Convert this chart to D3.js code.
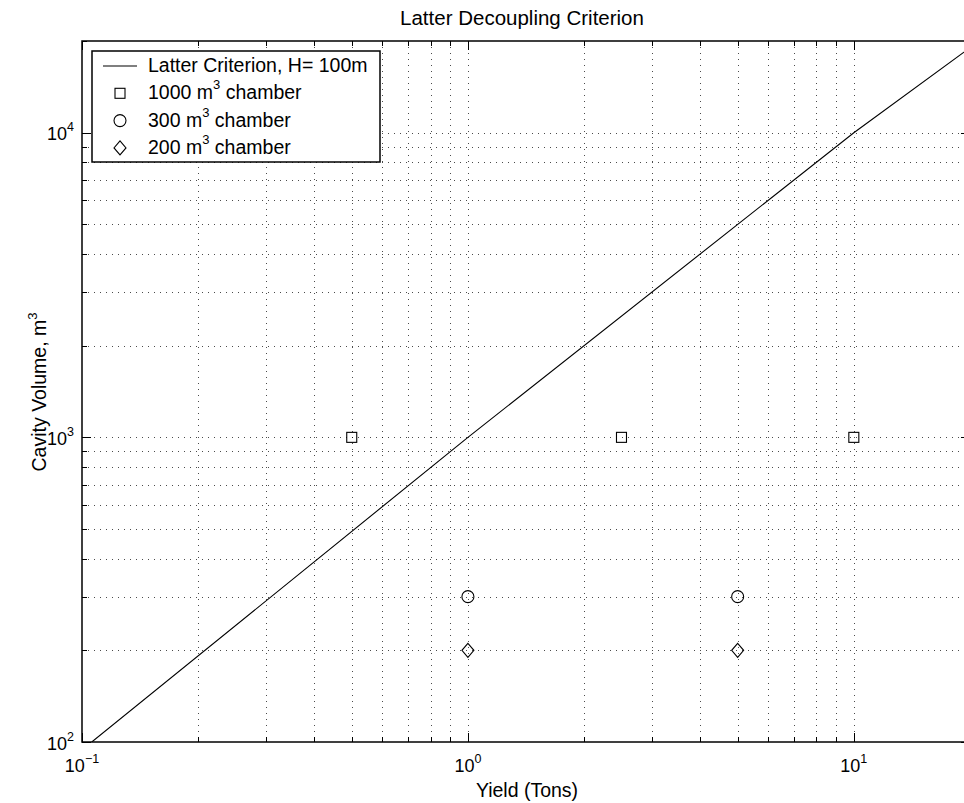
<!DOCTYPE html>
<html>
<head>
<meta charset="utf-8">
<script src="https://cdn.jsdelivr.net/npm/d3@7"></script>
<style>
  html, body { margin: 0; padding: 0; background: #fff; }
  svg { display: block; font-family: "Liberation Sans", Arial, Helvetica, sans-serif; }
</style>
</head>
<body>
<svg id="chart" width="964" height="803"></svg>
<script>
// Latter criterion curve (yield in tons, cavity volume in m^3)
const criterionYield  = [0.106, 1, 10, 20];
const criterionVolume = [100, 1000, 10000, 19000];

// Chamber test points
const chamber1000Yield = [0.5, 2.5, 10];
const chamber1000Vol   = [1000, 1000, 1000];
const chamber300Yield  = [1, 5];
const chamber300Vol    = [300, 300];
const chamber200Yield  = [1, 5];
const chamber200Vol    = [200, 200];

const xMajorTicks = [0.1, 1, 10];
const xTickExp    = ["\u22121", "0", "1"];
const yMajorTicks = [100, 1000, 10000];
const yTickExp    = ["2", "3", "4"];

const legendLabels = [
  {type: "line",    pre: "Latter Criterion, H= 100m"},
  {type: "square",  pre: "1000 m", sup: "3", post: " chamber"},
  {type: "circle",  pre: "300 m",  sup: "3", post: " chamber"},
  {type: "diamond", pre: "200 m",  sup: "3", post: " chamber"}
];

const svg = d3.select("#chart");
const margin = {left: 82, top: 41, right: 970, bottom: 742};

const x = d3.scaleLog().domain([0.1, 20]).range([margin.left, margin.right]);
const y = d3.scaleLog().domain([100, 20000]).range([margin.bottom, margin.top]);

// every 1..9 multiple inside each decade of the range
function logTicks(lo, hi) {
  const out = [];
  for (let e = Math.floor(Math.log10(lo)); e <= Math.ceil(Math.log10(hi)); e++) {
    for (let m = 1; m <= 9; m++) {
      const v = m * Math.pow(10, e);
      if (v >= lo * 0.9999 && v <= hi * 1.0001) out.push(v);
    }
  }
  return out;
}
const xAll = logTicks(0.1, 20);
const yAll = logTicks(100, 20000);

svg.append("defs").append("clipPath").attr("id", "plotclip")
  .append("rect")
  .attr("x", margin.left).attr("y", margin.top)
  .attr("width", margin.right - margin.left)
  .attr("height", margin.bottom - margin.top);

const plot = svg.append("g").attr("clip-path", "url(#plotclip)");

// dotted grid
const gridStyle = g => g.attr("stroke", "#000").attr("stroke-width", 1)
  .attr("stroke-dasharray", "1,5").attr("shape-rendering", "crispEdges").attr("opacity", 0.7);

plot.append("g").call(gridStyle).selectAll("line")
  .data(xAll.filter(v => v > 0.1 && v < 20)).join("line")
  .attr("x1", d => Math.round(x(d)) + 0.5).attr("x2", d => Math.round(x(d)) + 0.5)
  .attr("y1", margin.top).attr("y2", margin.bottom);

plot.append("g").call(gridStyle).selectAll("line")
  .data(yAll.filter(v => v > 100 && v < 20000)).join("line")
  .attr("y1", d => Math.round(y(d)) + 0.5).attr("y2", d => Math.round(y(d)) + 0.5)
  .attr("x1", margin.left).attr("x2", margin.right);

// criterion line
plot.append("path")
  .datum(criterionYield.map((v, i) => [v, criterionVolume[i]]))
  .attr("fill", "none").attr("stroke", "#000").attr("stroke-width", 1.1)
  .attr("d", d3.line().x(d => x(d[0])).y(d => y(d[1])));

// markers
function drawMarker(g, type, cx, cy) {
  if (type === "square") {
    g.append("rect").attr("x", cx - 5).attr("y", cy - 5).attr("width", 10).attr("height", 10)
      .attr("fill", "none").attr("stroke", "#000").attr("stroke-width", 1.1);
  } else if (type === "circle") {
    g.append("circle").attr("cx", cx).attr("cy", cy).attr("r", 6)
      .attr("fill", "none").attr("stroke", "#000").attr("stroke-width", 1.1);
  } else if (type === "diamond") {
    g.append("path").attr("d", `M${cx},${cy - 7}L${cx + 6},${cy}L${cx},${cy + 7}L${cx - 6},${cy}Z`)
      .attr("fill", "none").attr("stroke", "#000").attr("stroke-width", 1.1);
  } else if (type === "line") {
    g.append("line").attr("x1", cx - 17).attr("x2", cx + 17).attr("y1", cy).attr("y2", cy)
      .attr("stroke", "#000").attr("stroke-width", 1.1);
  }
}
const markerLayer = plot.append("g");
chamber1000Yield.forEach((v, i) => drawMarker(markerLayer, "square", x(v), y(chamber1000Vol[i])));
chamber300Yield.forEach((v, i) => drawMarker(markerLayer, "circle", x(v), y(chamber300Vol[i])));
chamber200Yield.forEach((v, i) => drawMarker(markerLayer, "diamond", x(v), y(chamber200Vol[i])));

// axes frame
svg.append("rect").attr("x", margin.left).attr("y", margin.top)
  .attr("width", margin.right - margin.left).attr("height", margin.bottom - margin.top)
  .attr("fill", "none").attr("stroke", "#000").attr("stroke-width", 1.5);

// inward ticks on all four sides
const tickG = svg.append("g").attr("stroke", "#000").attr("stroke-width", 1);
xAll.forEach(v => {
  const len = xMajorTicks.includes(v) ? 9 : 5;
  const px = Math.round(x(v)) + 0.5;
  tickG.append("line").attr("x1", px).attr("x2", px).attr("y1", margin.bottom).attr("y2", margin.bottom - len);
  tickG.append("line").attr("x1", px).attr("x2", px).attr("y1", margin.top).attr("y2", margin.top + len);
});
yAll.forEach(v => {
  const len = yMajorTicks.includes(v) ? 9 : 5;
  const py = Math.round(y(v)) + 0.5;
  tickG.append("line").attr("y1", py).attr("y2", py).attr("x1", margin.left).attr("x2", margin.left + len);
  tickG.append("line").attr("y1", py).attr("y2", py).attr("x1", margin.right).attr("x2", margin.right - len);
});

// tick labels
const tickFs = 18;
xMajorTicks.forEach((v, i) => {
  const t = svg.append("text").attr("x", x(v)).attr("y", 772).attr("text-anchor", "middle")
    .attr("font-size", tickFs).attr("fill", "#000");
  t.append("tspan").text("10");
  t.append("tspan").attr("dy", -9).attr("font-size", 12.5).text(xTickExp[i]);
});
yMajorTicks.forEach((v, i) => {
  const t = svg.append("text").attr("x", 74).attr("y", y(v) + 7.5).attr("text-anchor", "end")
    .attr("font-size", tickFs).attr("fill", "#000");
  t.append("tspan").text("10");
  t.append("tspan").attr("dy", -9).attr("font-size", 12.5).text(yTickExp[i]);
});

// title and axis labels
svg.append("text").attr("x", 522).attr("y", 25).attr("text-anchor", "middle")
  .attr("font-size", 20.5).attr("fill", "#000").text("Latter Decoupling Criterion");
svg.append("text").attr("x", 527).attr("y", 797).attr("text-anchor", "middle")
  .attr("font-size", 19.5).attr("fill", "#000").text("Yield (Tons)");
const yl = svg.append("text").attr("transform", "translate(46,392) rotate(-90)")
  .attr("text-anchor", "middle").attr("font-size", 19.5).attr("fill", "#000");
yl.append("tspan").text("Cavity Volume, m");
yl.append("tspan").attr("dy", -9).attr("font-size", 13).text("3");

// legend
const legendFs = 19.5;
const lg = svg.append("g");
lg.append("rect").attr("x", 92).attr("y", 51).attr("width", 288).attr("height", 111)
  .attr("fill", "#fff").attr("stroke", "#000").attr("stroke-width", 1.5);
legendLabels.forEach((d, i) => {
  const cy = 66 + i * 27.3;
  drawMarker(lg, d.type, 120, cy);
  const t = lg.append("text").attr("x", 148).attr("y", cy + 6).attr("font-size", legendFs).attr("fill", "#000");
  t.append("tspan").text(d.pre);
  if (d.sup) {
    t.append("tspan").attr("dy", -10).attr("font-size", 13).text(d.sup);
    t.append("tspan").attr("dy", 10).text(d.post);
  }
});
</script>
</body>
</html>
